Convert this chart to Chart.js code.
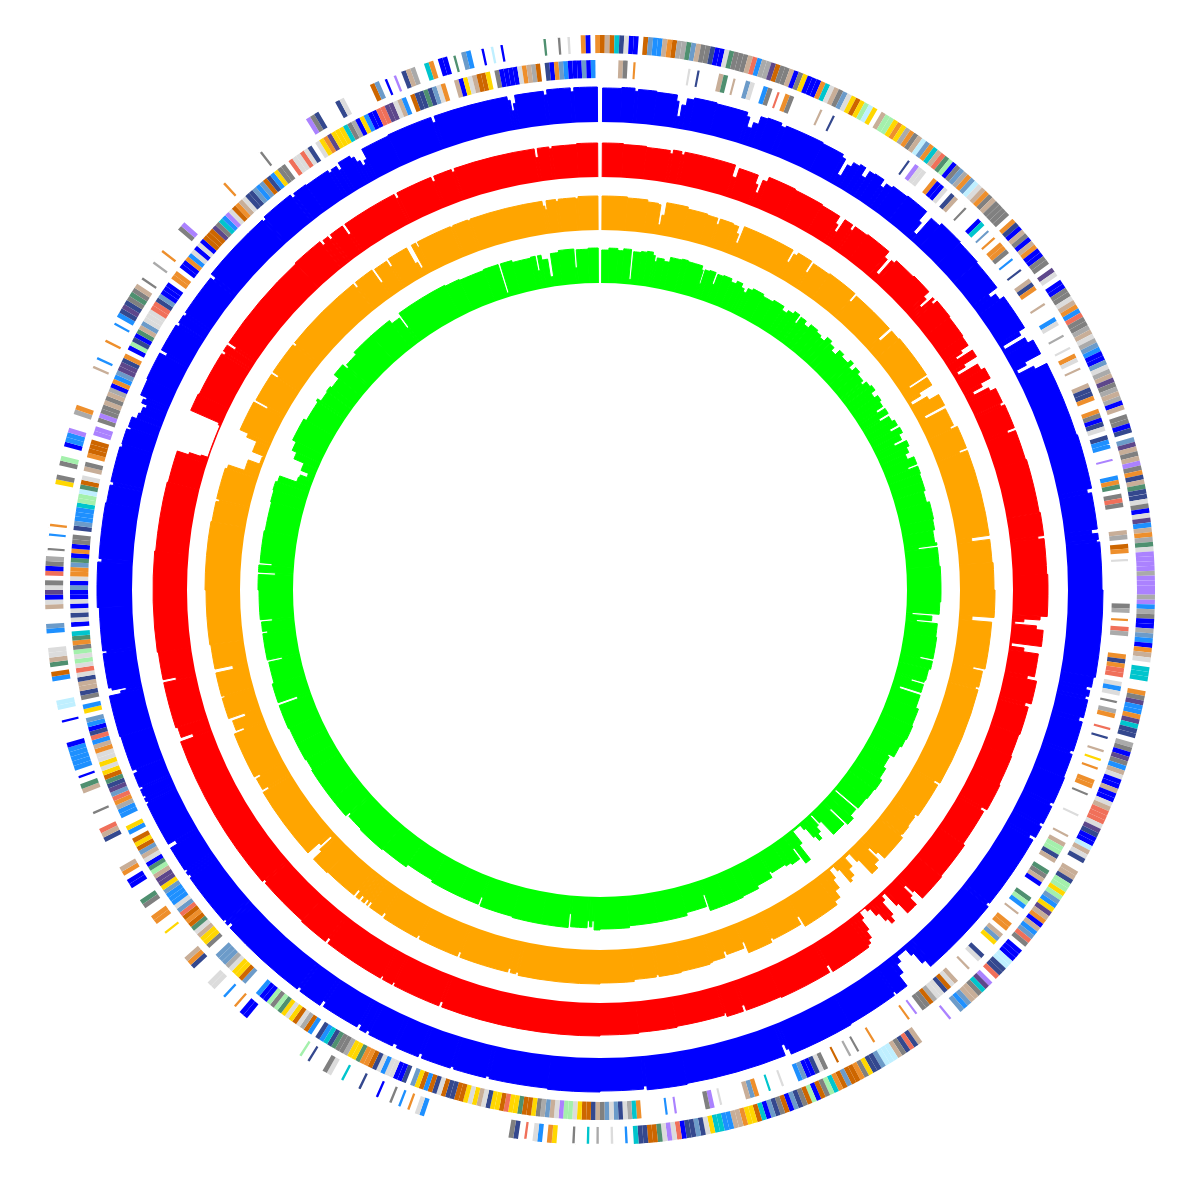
<!DOCTYPE html>
<html>
<head>
<meta charset="utf-8">
<title>Genome rings</title>
<script src="https://cdn.jsdelivr.net/npm/chart.js@4"></script>
<style>
  html, body { margin: 0; padding: 0; background: #fff; }
  canvas { display: block; }
</style>
</head>
<body>
<canvas id="genome" width="1196" height="1180"></canvas>
<script>
// coverage rings: [genome position in degrees, depth]
const blueSteps = [[0,0],[0.3,34],[2.5,35],[4,32],[4.4,34],[6.5,33],[8.9,27],[9.2,12],[9.6,24],[10.1,31],[10.9,33],[13.5,32],[17.2,28],[17.6,18],[18.2,24],[18.8,32],[19.6,33],[21.3,30],[21.9,32],[26.5,31],[29.2,28],[29.7,11],[30.2,24],[30.7,29],[31.5,31],[32.2,22],[32.8,30],[33.5,31],[34.7,24],[35.2,29],[36,31],[38,32],[40.8,20],[41.2,8],[41.7,30],[43,33],[46,32],[49,31],[52.7,20],[53.2,26],[54,31],[58.3,24],[58.8,3],[59.3,26],[60,32],[61.8,14],[62.2,3],[62.7,20],[63.1,33],[72,34],[78.3,29],[78.8,33],[83,27],[83.5,33],[84.2,31],[84.5,34],[90,35],[100,33],[101.2,28],[101.6,32],[102.3,29],[102.7,32],[104.8,28],[105.3,32],[108.8,29],[109.2,32],[112,33],[115.2,30],[115.6,33],[117.8,30],[118.2,33],[119.6,27],[120,32],[128.8,30],[129.2,33],[138.3,33],[138.7,25],[139.2,12],[139.6,4],[141,10],[141.6,20],[142.2,33],[143.7,30],[144,33],[150,34],[157.6,28],[157.9,22],[158.3,33],[170,34],[174.6,30],[175,33],[180,34],[186,33],[192.8,31],[193.2,33],[197,31],[197.4,33],[200.9,29],[201.3,33],[204,30],[204.5,33],[207.5,30],[207.9,33],[208.7,28],[209.1,32],[213.6,27],[214,33],[216.8,30],[217.2,33],[227.6,29],[228,33],[228.4,31],[228.7,33],[234.9,31],[235.3,33],[235.7,31],[236,33],[239,25],[239.5,33],[244.7,31],[245,33],[245.4,31],[245.7,33],[246.5,30],[246.8,33],[248.5,29],[248.9,33],[253,34],[257.8,22],[258.1,16],[258.4,30],[258.7,33],[262.7,29],[263,33],[268,35],[273.2,31],[273.6,34],[280,33],[282.1,30],[282.5,33],[286.6,31],[287,32],[288.8,28],[289.1,31],[290.3,26],[291,24],[291.8,21],[292.2,27],[292.7,24],[293,31],[295,32],[298.3,25],[298.7,32],[302,29],[302.4,31],[303.4,29],[303.8,31],[308.7,27],[309.1,33],[317.6,31],[318,34],[321.9,30],[322.3,33],[324,32],[327,29],[327.4,31],[328.1,26],[328.5,33],[330,30],[330.4,24],[330.8,18],[331.2,22],[331.6,33],[335,34],[340.3,28],[340.7,34],[349.3,30],[349.6,19],[349.9,26],[350.2,34],[353.5,30],[353.9,35],[356.6,31],[357,35],[359.7,0]];

const redSteps = [[0,0],[0.3,34],[3,33],[6,32],[9.1,29],[9.5,33],[10.6,30],[11,33],[17.7,21],[18.3,31],[20.9,22],[21.3,14],[21.7,28],[22.3,33],[26,32],[30,31],[32.7,23],[33.1,16],[33.5,31],[34.7,26],[35.1,31],[37,32],[40.5,25],[41,8],[41.5,27],[42,30],[45,31],[47.8,24],[48.3,15],[48.7,30],[49,26],[49.4,31],[52,30],[55,29],[56.4,20],[56.8,12],[57.2,30],[58.2,15],[58.6,5],[59.1,27],[60,31],[61.5,20],[62,9],[62.5,25],[63,31],[65,28],[65.4,32],[68.6,24],[69,32],[73,33],[80,34],[83,28],[83.4,34],[88,35],[93.4,28],[93.9,12],[94.3,3],[94.7,25],[95.2,32],[97.3,2],[97.8,15],[98.3,30],[101.3,23],[101.8,33],[104.8,27],[105.3,31],[109,30],[112,31],[116,32],[119.6,26],[120,30],[125,32],[130,33],[133.7,22],[134,12],[134.4,24],[134.8,33],[136.4,20],[136.8,3],[137.4,8],[137.9,24],[138.3,30],[138.8,24],[139.2,14],[139.7,5],[140.2,1],[141.2,8],[141.6,20],[142,28],[142.5,32],[143,34],[148.6,26],[149,33],[156,32],[160.8,26],[161.2,32],[163.4,28],[163.7,30],[170,31],[175,32],[180,33],[200.8,28],[201.2,33],[207.5,30],[207.8,33],[209.2,30],[209.5,33],[217.6,28],[218,33],[222,32],[228.8,30],[229.2,33],[250.1,19],[250.6,31],[252,33],[258,20],[258.4,33],[262,34],[275,33],[284,32],[287.8,32],[288.2,20],[288.5,8],[288.7,1],[293.4,3],[293.7,34],[296,33],[302,30],[302.4,33],[303.3,24],[303.7,33],[317,34],[321.2,29],[321.6,33],[322.4,29],[322.8,33],[324.7,22],[325.1,33],[332.5,28],[332.9,33],[337.7,28],[338.1,33],[340.5,30],[340.9,33],[351.5,24],[351.9,33],[353.4,31],[353.8,33],[357,34],[359.7,0]];

const orangeSteps = [[0,0],[0.3,34],[4,33],[7,31],[8.6,30],[9,10],[9.4,20],[9.8,33],[13,31],[16,30],[17.6,24],[18,30],[20,29],[20.9,22],[21.3,13],[21.7,31],[29.6,18],[30,28],[30.5,31],[32.8,19],[33.2,30],[36,31],[40.7,22],[41.1,30],[47.9,15],[48.4,30],[50,31],[56.6,10],[57,30],[58.3,15],[58.8,3],[59.4,20],[60,31],[61.8,8],[62.3,30],[65,26],[65.4,33],[68.8,25],[69.2,33],[82,15],[82.6,33],[86,34],[90,35],[94,13],[94.7,33],[101.6,21],[102,31],[104.4,28],[104.8,31],[119.6,25],[120,30],[125.4,27],[125.8,28],[127.5,29],[128.9,28],[129.3,31],[133.3,22],[133.7,13],[134.1,28],[135,33],[136.2,14],[136.6,3],[137.6,14],[138.3,22],[139,25],[139.4,8],[139.8,2],[140.7,12],[141.2,22],[142,30],[143,34],[148.6,22],[149,30],[153.6,28],[154,32],[157.7,20],[158.1,26],[160.8,22],[161.2,28],[163.2,29],[163.6,30],[168,31],[171.3,29],[171.7,31],[175,33],[180,34],[192,31],[192.4,33],[193.2,29],[193.6,33],[200.9,28],[201.3,33],[207.4,30],[207.8,33],[213.4,28],[213.8,32],[216,27],[216.4,32],[216.6,27],[217,32],[217.5,27],[217.9,32],[218.5,25],[218.9,32],[224,33],[226.8,22],[227.2,5],[227.6,18],[228,33],[239,26],[239.4,32],[241.2,27],[241.6,33],[248.5,22],[248.9,30],[250.4,16],[250.9,33],[254,30],[254.3,33],[257.8,15],[258.4,33],[262,34],[270,35],[280,34],[283,31],[283.4,34],[288,32],[288.6,15],[290.3,3],[291.5,2],[291.7,14],[292.4,14],[293.4,25],[294,34],[298.5,19],[298.9,33],[303.3,26],[303.7,33],[308.6,30],[309,33],[321.1,28],[321.5,33],[324.5,17],[324.9,32],[327,25],[327.4,33],[330.5,15],[330.9,8],[331.3,33],[332,28],[332.3,33],[337.6,32],[338,33],[340.3,32],[340.7,33],[351.5,28],[351.8,24],[352.1,33],[353.5,31],[353.9,33],[356.4,32],[356.8,34],[359.7,0]];

const greenSteps = [[0,0],[0.3,33],[1.5,35],[3,33],[4,35],[5.3,5],[5.7,33],[7,34],[8,35],[9,32],[9.4,26],[9.8,30],[11,28],[12,33],[14,34],[15,33],[17.6,29],[17.9,15],[18.2,30],[19,31],[20.1,19],[20.5,30],[21.5,31],[23,28],[24,31],[25,27],[25.6,24],[26.2,29],[27,31],[29,29],[31,31],[33,27],[34,30],[35,33],[36,24],[36.4,32],[37.5,28],[38.5,32],[40,30],[41,28],[42,33],[43,30],[44,26],[45,32],[46,29],[47.5,33],[48.2,27],[49,32],[50,29],[51.5,26],[52,31],[53,33],[54,28],[55,32],[56,30],[57,22],[57.5,31],[58.5,20],[59,30],[60,33],[61,24],[61.5,34],[62.5,30],[63.5,21],[64,34],[65,31],[66,27],[67,34],[68.3,24],[68.7,34],[70,33],[71.5,33],[73,31],[75,34],[78,33],[79.8,31],[82,33],[82.4,14],[82.8,33],[86,34],[92,33],[94.1,6],[94.5,26],[95.3,11],[95.7,32],[98,33],[101.7,20],[102.1,33],[103.5,31],[105.5,30],[105.9,17],[106.3,30],[107.7,8],[108.2,30],[110.5,33],[113.5,34],[116,33],[117.5,31],[119.6,25],[120,27],[122,30],[124,33],[126,32],[128,31],[130.2,2],[130.6,30],[132,34],[133.4,11],[133.8,31],[136.3,13],[136.7,2],[137.1,14],[137.6,20],[138.2,26],[138.8,20],[139.2,8],[139.6,2],[141,2],[141.4,17],[142,35],[143,16],[143.4,28],[145,26],[146,24],[148.7,22],[149.1,28],[152,31],[155,32],[158,32],[161,15],[161.4,27],[165,30],[170,30],[175,32],[180,33],[181,24],[181.4,30],[181.8,24],[182.2,31],[185,18],[185.4,32],[190,32],[195,31],[200.8,22],[201.2,30],[205,30],[210,28],[215,31],[220,32],[225,31],[228,28],[228.4,33],[232,33],[238,32],[240,33],[243,33],[246,34],[250.2,14],[250.7,34],[254,32],[257.7,18],[258.1,33],[262.6,28],[263,33],[264.6,22],[265,34],[270,35],[272.6,18],[273,35],[274.2,22],[274.6,34],[280,33],[285,34],[287,35],[288.5,33],[289.6,15],[290.5,14],[291,7],[291.8,15],[292.4,15],[293.2,26],[294.4,31],[296,35],[300,32],[303.7,34],[304.1,30],[306,31],[307,29],[309,35],[311.2,29],[311.6,32],[314,35],[318,35],[322,31],[323.6,18],[324,35],[333,34],[335.6,33],[340,34],[342.6,4],[343,34],[345,32],[348.2,33],[349,18],[349.4,33],[350,28],[351,10],[351.6,33],[353,35],[355.6,16],[356,34],[358,35],[359.7,0]];

// feature classes, one entry per half degree, 0 = nothing there
const outerFeatures = [
5,8,5,11,13,14,1,1,0,5,7,3,3,8,4,5,18,18,10,7,
8,2,2,13,1,1,14,10,2,2,2,8,12,3,18,18,17,5,2,2,
8,1,2,6,1,1,1,4,11,14,8,2,7,14,6,5,6,15,16,6,
0,8,15,15,6,4,6,18,4,2,8,16,7,4,11,8,12,10,15,1,
2,7,18,4,7,16,14,8,4,2,8,2,2,2,2,0,4,13,1,8,
2,1,8,4,1,1,2,2,0,17,14,0,1,1,2,2,14,8,4,3,
12,2,2,18,8,14,18,7,3,1,1,7,14,18,8,17,2,18,8,18,
1,8,0,2,2,1,13,0,7,17,8,2,8,9,2,4,13,8,10,13,
13,14,2,1,14,17,3,8,4,18,10,14,9,9,9,9,18,9,9,9,
9,18,9,3,18,2,1,1,18,7,3,1,4,8,14,0,11,11,11,0,
0,4,2,17,3,3,4,17,11,13,13,0,18,2,1,17,2,3,8,14,
1,1,8,1,1,14,8,12,12,12,14,17,13,1,1,16,8,14,13,0,
0,8,8,13,15,15,6,15,7,3,6,17,8,4,1,8,3,7,12,2,
0,1,1,1,16,16,13,13,12,0,9,17,11,2,8,8,7,3,7,0,
0,9,0,0,0,0,0,0,0,8,13,12,13,2,8,16,16,16,7,13,
13,6,2,4,5,5,7,5,4,11,15,2,5,1,15,5,2,13,7,1,
5,2,13,7,1,11,5,6,6,4,8,8,3,3,11,11,6,14,13,7,
13,13,1,12,14,9,14,10,5,5,13,13,11,0,3,0,0,14,0,0,
18,0,11,0,0,2,0,0,0,6,4,0,3,14,0,12,0,13,2,0,
0,0,0,0,0,0,0,0,0,0,0,0,0,0,0,0,0,3,14,0,
4,0,3,0,2,0,0,1,0,0,0,13,0,0,0,11,0,0,14,2,
0,0,0,13,0,15,0,0,0,0,0,0,0,0,0,0,0,0,0,1,
1,0,4,0,0,3,0,0,14,14,0,0,0,0,13,4,8,0,0,0,
0,0,0,6,0,0,4,4,0,0,2,10,0,0,0,1,1,0,4,8,
0,0,0,0,0,0,13,8,12,0,0,0,2,0,0,0,0,8,10,0,
1,0,3,3,3,3,3,1,0,0,0,0,1,0,0,16,16,0,0,0,
0,3,5,0,10,8,14,14,0,0,0,3,7,0,0,0,8,14,1,17,
14,2,0,12,1,2,18,0,2,0,0,3,0,4,0,0,0,0,0,0,
0,0,6,2,0,0,2,15,0,0,1,3,3,9,0,0,0,18,4,0,
0,0,0,0,0,0,0,8,0,3,0,0,0,4,0,0,0,3,0,3,
13,17,13,2,10,2,8,0,2,0,0,0,18,0,0,4,0,0,0,0,
0,2,9,0,0,0,0,0,0,0,0,0,0,0,4,0,0,0,0,0,
0,0,0,0,2,0,0,0,0,0,0,0,0,0,0,0,9,2,13,0,
0,0,0,13,14,0,0,0,0,0,0,5,7,0,1,0,9,0,13,8,
18,0,0,11,4,0,1,1,0,10,0,7,3,0,0,1,0,16,0,1,
0,0,0,0,0,0,0,0,10,0,0,2,0,14,0,0,4,1,0,4
];

const innerFeatures = [
0,0,0,0,8,2,0,4,0,0,0,0,0,0,0,0,0,0,0,14,
0,13,0,0,0,0,8,10,0,8,0,0,7,14,0,0,3,2,0,12,
0,4,2,0,0,0,0,0,0,8,0,0,13,0,0,0,0,0,0,0,
0,0,0,0,0,0,0,0,0,0,0,13,0,9,14,14,0,0,4,1,
1,14,0,13,8,0,0,2,0,0,0,1,11,0,7,0,4,0,4,4,
2,0,3,0,0,13,0,0,8,13,4,0,0,0,8,0,0,0,3,14,
0,0,18,0,0,14,0,4,14,0,8,0,0,0,8,13,13,4,0,0,
4,2,1,13,14,0,13,3,3,0,0,9,0,0,0,3,4,10,0,2,
12,2,0,0,0,0,0,8,18,0,5,4,0,14,0,0,0,0,0,0,
0,0,0,2,18,0,4,0,12,18,0,0,0,0,4,13,4,12,12,0,
14,3,14,0,2,0,18,4,0,0,12,0,13,0,0,8,0,6,0,4,
0,0,4,4,0,2,0,0,0,0,14,0,0,0,0,8,0,8,15,15,
13,8,0,0,10,2,8,1,0,0,0,10,15,3,0,8,0,0,4,4,
0,8,7,6,0,0,0,13,14,0,0,8,0,0,0,8,14,5,13,14,
14,18,5,2,2,0,9,0,4,0,0,0,0,0,0,0,0,4,0,0,
0,2,0,18,0,0,5,0,0,2,14,13,1,1,7,3,0,0,0,14,
0,0,11,0,0,4,7,8,0,0,0,0,0,14,0,9,2,0,0,0,
0,0,0,9,0,3,0,0,0,0,0,4,11,18,14,13,7,14,7,2,
8,13,5,5,6,14,15,15,9,14,8,7,18,2,6,5,5,10,6,6,
12,5,6,6,13,14,8,6,14,6,5,5,13,13,5,14,13,5,3,5,
6,7,0,13,1,1,14,14,3,14,13,5,4,4,10,6,6,18,2,2,
10,13,11,3,13,0,3,5,18,14,5,6,14,6,10,15,2,15,1,1,
3,0,0,0,7,5,6,6,14,18,7,7,7,0,0,2,6,6,8,14,
10,5,4,5,12,7,14,3,3,3,7,6,17,17,8,15,10,1,14,8,
7,5,6,5,0,3,6,0,0,3,3,18,4,12,7,17,13,10,5,6,
14,6,14,14,4,8,3,12,13,1,3,7,0,6,3,0,2,13,8,8,
13,14,12,14,15,14,15,2,4,10,11,0,1,14,13,14,1,14,1,1,
7,1,14,4,4,7,10,1,4,1,2,2,0,13,7,3,3,3,11,15,
15,16,10,5,14,0,8,2,0,4,5,5,5,0,9,9,0,2,9,2,
2,8,2,8,18,1,4,3,7,17,17,13,4,0,1,15,13,1,10,8,
7,14,14,14,12,12,13,7,1,1,1,0,4,4,0,1,1,4,3,14,
1,14,1,5,5,5,17,2,11,3,9,14,5,4,8,14,13,13,7,3,
7,5,13,3,6,2,2,0,12,14,14,12,14,13,0,14,6,4,17,6,
6,6,11,2,18,1,6,3,1,1,12,12,17,17,14,8,3,0,5,13,
13,10,13,7,14,4,0,0,8,1,6,14,8,5,5,6,0,2,1,1,
1,1,14,4,8,18,5,0,13,1,4,7,3,1,1,1,7,1,3,0
];

const featureColors = [null, '#0000ff', '#808080', '#1e90ff', '#ee8f2c', '#cd6600', '#ffd700', '#6c9bc9', '#c8ae98', '#ab82ff', '#4f9070', '#00c5cd', '#f0705a', '#34488e', '#dcdcdc', '#a4f0ac', '#bfefff', '#5d478b', '#aaaaaa'];

// radii on the r axis
const blueBase = 468, redBase = 413, orangeBase = 360, greenBase = 307;
const innerBase = 512, innerTop = 530, outerBase = 537, outerTop = 555;

// white disc that cuts a ring from the center
function disc(radius) {
    return { data: [radius], angle: [360], backgroundColor: '#fff', borderWidth: 0 };
}

function coverageSet(steps, base, color) {
    let widths = steps.map((s, i) => (i + 1 < steps.length ? steps[i + 1][0] : 360) - s[0]);
    return {
        data: steps.map(s => base + s[1]),
        angle: widths,
        backgroundColor: color,
        borderColor: color,
        borderWidth: steps.map(s => s[1] > 0 ? 1 : 0)   // hides the seams between wedges
    };
}

// a lone feature is a thin line in the reference, runs touch each other
function featureSet(classes, top) {
    let last = classes.length - 1;
    return {
        data: classes.map(c => c > 0 ? top : 0),
        backgroundColor: classes.map(c => featureColors[c] || '#fff'),
        borderColor: '#fff',
        borderWidth: classes.map((c, i) => {
            if (c == 0) return 0;
            let prev = classes[i == 0 ? last : i - 1];
            let next = classes[i == last ? 0 : i + 1];
            return prev == 0 && next == 0 ? 2.4 : 0;
        })
    };
}

// first dataset is painted last, so the list goes from the center to the rim
new Chart(document.getElementById('genome'), {
    type: 'polarArea',
    data: {
        labels: [],
        datasets: [
            disc(greenBase),
            coverageSet(greenSteps, greenBase, '#00ff00'),
            disc(orangeBase),
            coverageSet(orangeSteps, orangeBase, '#ffa500'),
            disc(redBase),
            coverageSet(redSteps, redBase, '#ff0000'),
            disc(blueBase),
            coverageSet(blueSteps, blueBase, '#0000ff'),
            disc(innerBase),
            featureSet(innerFeatures, innerTop),
            disc(outerBase),
            featureSet(outerFeatures, outerTop)
        ]
    },
    options: {
        responsive: false,
        animation: false,
        layout: { padding: { left: 4 } },
        plugins: { legend: { display: false }, tooltip: { enabled: false } },
        scales: { r: { min: 0, max: 590, display: false } }
    }
});
</script>
</body>
</html>
